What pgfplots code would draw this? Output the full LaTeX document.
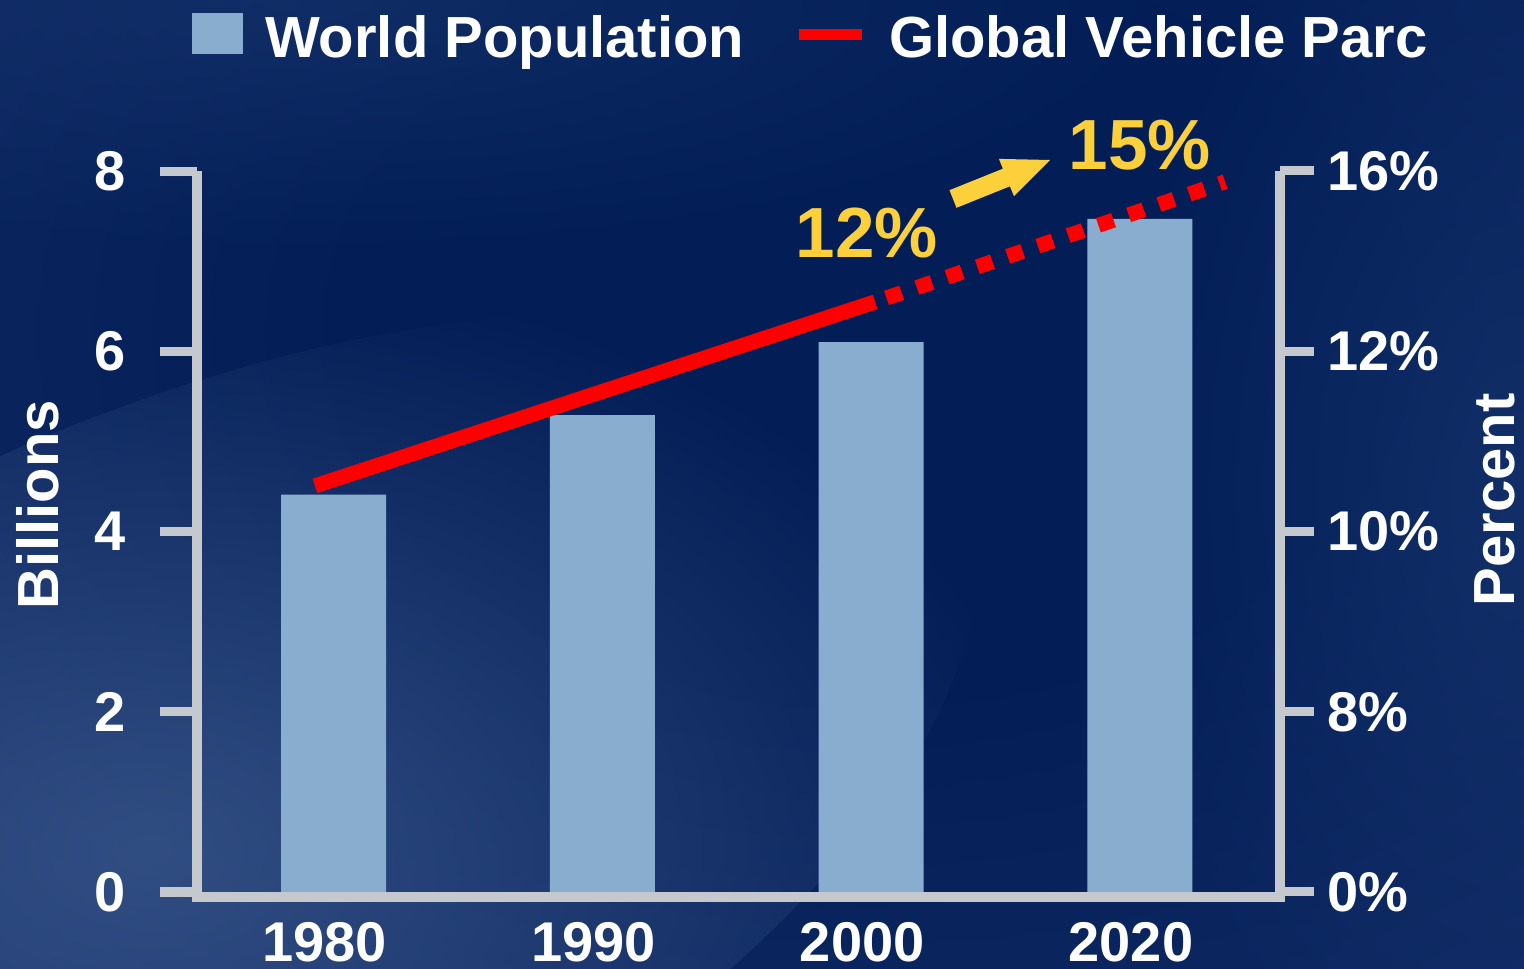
\documentclass[border=0pt]{standalone}
\usepackage{fontspec}
\setmainfont{Liberation Sans}
\usepackage{pgfplots}
\pgfplotsset{compat=1.18}
\usetikzlibrary{fadings}
\definecolor{barblue}{RGB}{137,173,206}
\definecolor{axgrey}{RGB}{197,200,204}
\definecolor{vred}{RGB}{255,0,0}
\definecolor{annyel}{RGB}{252,208,58}
\definecolor{bgA}{RGB}{3,30,86}
\definecolor{bgB}{RGB}{14,40,98}
\definecolor{bgC}{RGB}{28,58,116}
\definecolor{bgD}{RGB}{40,70,126}
\definecolor{bgL}{RGB}{70,100,150}
\pgfdeclareradialshading{bgshade}{\pgfpoint{0bp}{0bp}}{color(0bp)=(bgA); color(10bp)=(bgA); color(22bp)=(bgB); color(36bp)=(bgC); color(50bp)=(bgD)}
\tikzfading[name=softblob, inner color=transparent!20, outer color=transparent!100]
\newcommand{\tickfont}{\fontsize{56bp}{60bp}\selectfont\bfseries}
\newcommand{\labfont}{\fontsize{58bp}{62bp}\selectfont\bfseries}
\begin{document}
\begin{tikzpicture}
\path[use as bounding box] (0,0) rectangle (1524bp,969bp);
\begin{scope}
\clip (0,0) rectangle (1524bp,969bp);
\shade[shading=bgshade] (-430bp,-260bp) rectangle (2170bp,1540bp);
\fill[bgL, opacity=0.8, path fading=softblob, rotate around={25:(150bp,120bp)}] (150bp,120bp) ellipse (900bp and 420bp);
\fill[bgC, opacity=0.7, path fading=softblob] (1524bp,480bp) ellipse (420bp and 700bp);
\fill[bgC, opacity=0.6, path fading=softblob] (300bp,969bp) ellipse (900bp and 260bp);
\end{scope}

\begin{axis}[
  at={(197bp,77bp)}, anchor=south west,
  scale only axis, width=1083bp, height=721bp,
  xmin=-0.508, xmax=3.521, ymin=0, ymax=8,
  axis x line=bottom, axis y line=left,
  axis line style={-, line width=10bp, axgrey},
  x axis line style={yshift=-5bp, line cap=rect},
  ytick={0,2,4,6,8}, yticklabels={0,2,4,6,8},
  xtick={0,1,2,3}, xticklabels={1980,1990,2000,2020},
  tick align=outside, major tick length=37bp,
  ytick style={line width=9bp, axgrey},
  xtick style={draw=none},
  tick label style={font=\tickfont, text=white},
  xticklabel style={inner sep=0pt, text depth=0pt, text height=40bp, anchor=north, yshift=8bp, xshift=-9bp},
  yticklabel style={xshift=-31bp},
  legend columns=-1,
  legend style={draw=none, fill=none, text=white, font=\labfont,
    at={(-0.0046,1.187)}, anchor=west, inner sep=0pt,
    nodes={inner sep=0pt},
    /tikz/every odd column/.append style={column sep=22bp},
    /tikz/every even column/.append style={column sep=49bp}},
]
\addplot[ybar, bar width=105bp, fill=barblue, draw=none,
  legend image code/.code={\fill[barblue] (0bp,-17bp) rectangle (51bp,24bp);}]
  coordinates {(0,4.41) (1,5.29) (2,6.10) (3,7.47)};
\addlegendentry{World Population}
\addplot[vred, line width=15bp, line cap=butt,
  legend image code/.code={\draw[vred, line width=11bp] (0bp,3bp) -- (63bp,3bp);}]
  coordinates {(-0.069,4.506) (2.015,6.548)};
\addlegendentry{Global Vehicle Parc}
\addplot[vred, line width=15bp, line cap=butt, dash pattern=on 16bp off 16bp, dash phase=20bp, forget plot]
  coordinates {(2.015,6.548) (3.317,7.88)};
\end{axis}

\begin{axis}[
  at={(197bp,77bp)}, anchor=south west,
  scale only axis, width=1083bp, height=721bp,
  xmin=-0.508, xmax=3.521, ymin=0, ymax=8,
  axis x line=none, axis y line=right,
  axis line style={-, line width=10bp, axgrey},
  ytick={0,2,4,6,8}, yticklabels={0\%,8\%,10\%,12\%,16\%},
  tick align=outside, major tick length=34bp,
  ytick style={line width=9bp, axgrey},
  tick label style={font=\tickfont, text=white},
  yticklabel style={xshift=10bp},
]
\end{axis}

\node[text=annyel, font=\fontsize{71bp}{75bp}\selectfont\bfseries] at (867bp,736bp) {12\%};
\node[text=annyel, font=\fontsize{71bp}{75bp}\selectfont\bfseries] at (1140bp,824bp) {15\%};
\fill[annyel] (956.5bp,761.2bp) -- (1009.9bp,782.7bp) -- (1013.9bp,772.9bp) -- (1050bp,809bp) -- (998.9bp,810.1bp) -- (1002.9bp,800.3bp) -- (949.5bp,778.8bp) -- cycle;
\node[rotate=90, text=white, font=\labfont] at (38bp,464bp) {Billions};
\node[rotate=90, text=white, font=\labfont] at (1495bp,469bp) {Percent};
\end{tikzpicture}
\end{document}
